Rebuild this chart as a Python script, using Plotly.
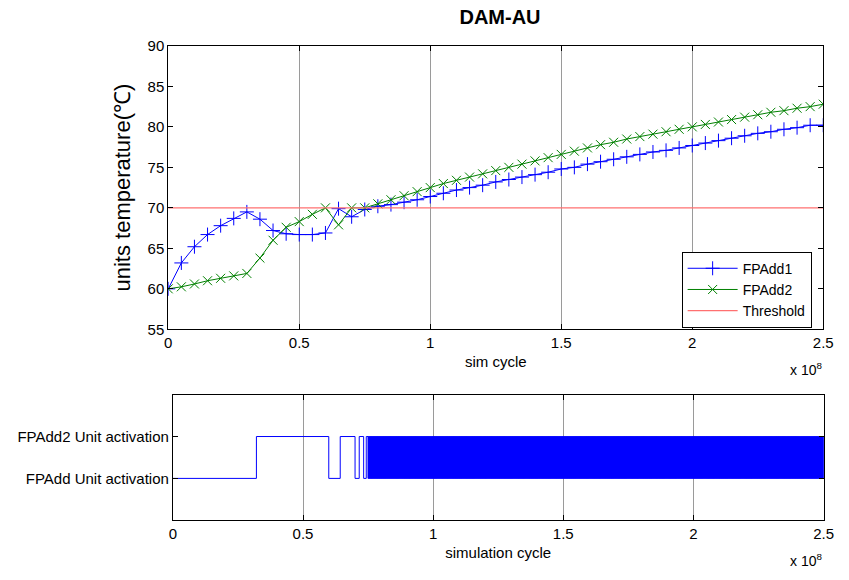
import plotly.graph_objects as go

# Simulation cycle of each temperature sample, in units of 1e8 cycles
sample_cycles = [0.00, 0.05, 0.10, 0.15, 0.20, 0.25, 0.30, 0.35, 0.40, 0.45,
                 0.50, 0.55, 0.60, 0.65, 0.70, 0.75, 0.80, 0.85, 0.90, 0.95,
                 1.00, 1.05, 1.10, 1.15, 1.20, 1.25, 1.30, 1.35, 1.40, 1.45,
                 1.50, 1.55, 1.60, 1.65, 1.70, 1.75, 1.80, 1.85, 1.90, 1.95,
                 2.00, 2.05, 2.10, 2.15, 2.20, 2.25, 2.30, 2.35, 2.40, 2.45,
                 2.50]

# Unit temperatures (deg C)
fpadd1_temp = [60.0, 63.2, 65.2, 66.7, 67.8, 68.7, 69.5, 68.6, 67.2, 66.8,
               66.7, 66.7, 66.9, 69.9, 68.9, 69.8, 70.2, 70.4, 70.7, 71.0,
               71.4, 71.8, 72.2, 72.5, 72.8, 73.2, 73.5, 73.8, 74.1, 74.4,
               74.8, 75.0, 75.4, 75.7, 76.0, 76.3, 76.6, 76.9, 77.1, 77.4,
               77.7, 78.0, 78.3, 78.6, 78.9, 79.2, 79.4, 79.7, 79.9, 80.2,
               80.2]
fpadd2_temp = [60.0, 60.25, 60.6, 61.0, 61.3, 61.6, 61.9, 63.8, 66.0, 67.6,
               68.3, 69.2, 70.0, 67.9, 70.0, 70.0, 70.5, 71.0, 71.5, 72.0,
               72.5, 73.0, 73.4, 73.8, 74.2, 74.6, 75.0, 75.4, 75.8, 76.2,
               76.6, 77.0, 77.4, 77.8, 78.1, 78.5, 78.8, 79.1, 79.4, 79.7,
               80.0, 80.3, 80.6, 80.9, 81.2, 81.5, 81.8, 82.0, 82.3, 82.5,
               82.8]
threshold_temp = 70.0
sim_end = 2.5

# Active unit: 1 = FPAdd, 2 = FPAdd2; switch instants in 1e8 cycles
switch_cycles = [0.0, 0.321, 0.599, 0.643, 0.700, 0.716, 0.733, 0.743]
switch_units = [1, 2, 1, 2, 1, 2, 1, 2]
# From here on the scheduler ping-pongs between the units every dense_period
dense_start = 0.75
dense_period = 0.001

activation_ticks = [1, 2]
activation_labels = ["FPAdd Unit activation", "FPAdd2 Unit activation"]
cycle_ticks = [0, 0.5, 1, 1.5, 2, 2.5]
cycle_labels = ["0", "0.5", "1", "1.5", "2", "2.5"]

W, H = 849, 580
FONT = "Liberation Sans, Arial, sans-serif"
BLUE = "#0000ff"
GREEN = "#008000"

# Build the activation step signal
act_x = list(switch_cycles)
act_y = list(switch_units)
unit = switch_units[-1]
t = dense_start
while t < sim_end:
    unit = 1 if unit == 2 else 2
    act_x.append(round(t, 4))
    act_y.append(unit)
    t += dense_period
act_x.append(sim_end)
act_y.append(unit)

fig = go.Figure()
fig.add_trace(go.Scatter(
    x=sample_cycles, y=fpadd1_temp, name="FPAdd1", mode="lines+markers",
    line=dict(color=BLUE, width=1),
    marker=dict(symbol="cross-thin", size=10, line=dict(color=BLUE, width=1)),
    xaxis="x", yaxis="y"))
fig.add_trace(go.Scatter(
    x=sample_cycles, y=fpadd2_temp, name="FPAdd2", mode="lines+markers",
    line=dict(color=GREEN, width=1),
    marker=dict(symbol="x-thin", size=9, line=dict(color=GREEN, width=1)),
    xaxis="x", yaxis="y"))
fig.add_trace(go.Scatter(
    x=[0, sim_end], y=[threshold_temp, threshold_temp], name="Threshold",
    mode="lines", line=dict(color="#ff7070", width=1.2),
    xaxis="x", yaxis="y"))
fig.add_trace(go.Scatter(
    x=act_x, y=act_y, mode="lines", line=dict(color=BLUE, width=1, shape="hv"),
    showlegend=False, xaxis="x2", yaxis="y2"))

axis_common = dict(
    showline=True, linecolor="black", linewidth=1, mirror="ticks",
    ticks="inside", ticklen=5, tickcolor="black", zeroline=False,
    tickfont=dict(family=FONT, size=15, color="black"),
)
x_common = dict(axis_common, range=[0, sim_end], tickvals=cycle_ticks,
                ticktext=cycle_labels, showgrid=True, gridcolor="#9a9a9a",
                gridwidth=1)

fig.update_layout(
    width=W, height=H,
    margin=dict(l=0, r=0, t=0, b=0),
    paper_bgcolor="white", plot_bgcolor="white",
    font=dict(family=FONT, size=15, color="black"),
    title=dict(text="<b>DAM-AU</b>", x=500 / W, y=1 - 17 / H,
               xanchor="center", yanchor="middle",
               font=dict(family=FONT, size=20, color="black")),
    xaxis=dict(x_common, domain=[167 / W, 833 / W], anchor="y",
               title=dict(text="sim cycle", standoff=6,
                          font=dict(family=FONT, size=15))),
    yaxis=dict(axis_common, domain=[1 - 330 / H, 1 - 38 / H], anchor="x",
               range=[55, 90], dtick=5, showgrid=False,
               title=dict(text="units temperature(℃)", standoff=10,
                          font=dict(family=FONT, size=22))),
    xaxis2=dict(x_common, domain=[171.7 / W, 833.3 / W], anchor="y2",
                title=dict(text="simulation cycle", standoff=6,
                           font=dict(family=FONT, size=15))),
    yaxis2=dict(axis_common, domain=[1 - 526.7 / H, 1 - 397.3 / H],
                anchor="x2", range=[0, 3], tickvals=activation_ticks,
                ticktext=activation_labels, showgrid=False),
    legend=dict(x=689 / W, y=1 - 250 / H, xanchor="left", yanchor="top",
                bgcolor="white", bordercolor="black", borderwidth=1,
                font=dict(family=FONT, size=14), itemwidth=50,
                tracegroupgap=0),
    annotations=[
        dict(text="x 10<sup>8</sup>", x=834 / W, y=1 - 371 / H,
             xref="paper", yref="paper", xanchor="right", yanchor="middle",
             showarrow=False, font=dict(family=FONT, size=14)),
        dict(text="x 10<sup>8</sup>", x=834 / W, y=1 - 568 / H,
             xref="paper", yref="paper", xanchor="right", yanchor="middle",
             showarrow=False, font=dict(family=FONT, size=14)),
    ],
)

fig.write_html("out.html")
